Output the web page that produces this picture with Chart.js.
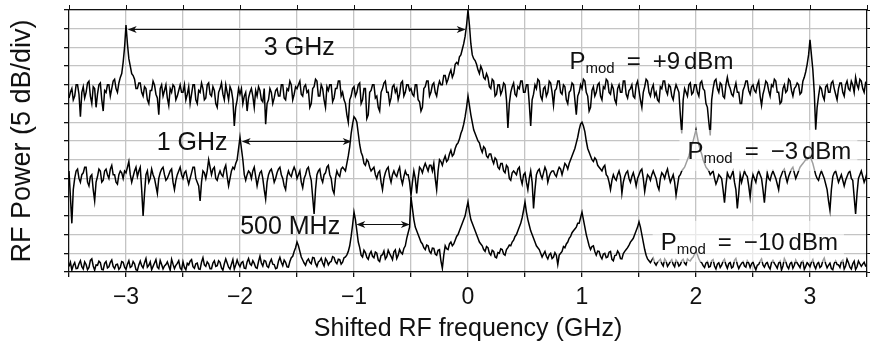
<!DOCTYPE html>
<html>
<head>
<meta charset="utf-8">
<script src="https://cdn.jsdelivr.net/npm/chart.js@4.4.0/dist/chart.umd.min.js"></script>
<style>
  html, body { margin: 0; padding: 0; background: #fff; }
  #wrap { width: 874px; height: 352px; }
</style>
</head>
<body>
<div id="wrap"><canvas id="spectrum" width="874" height="352"></canvas></div>
<script>
// frequency grid of the traces (GHz)
const FREQ_START = -3.5;
const FREQ_STEP = 0.0125;

// traces in dB (display offset), one row = 0.5 GHz
const tracePlus9 = [
  46.5, 48, 49, 46, 47, 50, 50, 47.5, 41.5, 48, 49.5, 46.5, 48, 50.5, 51, 47, 45, 49.5, 49, 44, 47.5, 50, 50.5, 46, 43, 48.5, 48, 50, 50, 47, 49, 51, 51.5, 49, 48, 50.5, 52, 53, 56, 60,
  66, 61, 57, 55, 53, 52.5, 51.5, 49, 49, 50.5, 50.5, 48, 47, 49.5, 49, 46, 45, 48.5, 48.5, 51, 50, 47.5, 46.5, 42, 49, 50, 47, 48.5, 50, 46.5, 44.5, 49, 48, 50, 49.5, 46, 47, 48.5, 50, 48,
  48, 50, 46, 47.5, 49.5, 45, 47.5, 50, 50, 46, 45, 48.5, 48, 50.5, 49, 46, 46.5, 50, 50.5, 47.5, 47, 49.5, 48.5, 45, 44, 48, 49, 50.5, 47.5, 46, 50, 48, 46, 49.5, 48.5, 46, 39, 44, 46, 49,
  47.5, 49, 45, 47, 48, 43, 46.5, 48, 49, 47, 44, 48.5, 47, 49.5, 48.5, 46, 45.5, 49, 39.5, 45, 46, 49, 48, 45, 46.5, 48.5, 49, 47, 47, 50, 50, 46.5, 46, 49, 48.5, 51, 50, 46, 47.5, 49.5,
  49, 50, 51, 47.5, 47, 49.5, 50, 48, 48.5, 44, 45, 49, 49.5, 51.5, 51, 47, 47, 50, 49, 46, 44, 49.5, 48.5, 50, 50, 45.5, 46.5, 49, 49, 51, 51, 47, 48, 46, 45, 42, 40, 46, 47, 49,
  49.5, 47, 48, 50, 50.5, 45, 46, 49, 49, 41, 42, 48, 48.5, 50, 50, 46.5, 47, 44, 43, 48, 49, 50.5, 51, 48, 48, 45, 46.5, 49.5, 50, 48, 49, 46, 47.5, 50.5, 51, 47, 48, 50, 50, 48.5,
  49, 47.5, 47, 50, 50, 46, 45.5, 43, 44, 49, 49.5, 51, 51, 47, 48, 50, 50.5, 48, 47, 49.5, 51, 50, 50, 52.5, 52.5, 50.5, 51.5, 53, 54, 52, 53, 55.5, 56, 55.5, 57.5, 58, 59.5, 61, 63, 66,
  70, 66, 61, 58, 57, 56.5, 55.5, 54, 53, 55, 54, 52, 51.5, 53, 52, 49.5, 49, 51.5, 51, 47, 47.5, 50, 50, 47.5, 48.5, 50.5, 50, 46, 38.5, 45, 48, 49.5, 50.5, 47.5, 47, 49.5, 49, 51, 51, 48,
  48, 50, 50, 45, 39, 46, 47.5, 50, 49, 51.5, 51, 47, 46, 49, 49.5, 47, 48, 51, 50.5, 48, 44.5, 48.5, 49, 51, 51, 48, 47.5, 50, 49.5, 46, 45, 48, 48.5, 50.5, 50, 46, 42, 47, 48, 50,
  49, 51.5, 51, 48, 47, 43, 44, 48.5, 49.5, 47, 48, 50, 50.5, 47, 46, 49.5, 49, 51.5, 51, 48, 47.5, 50, 49, 46, 45, 49, 50, 48, 48, 51, 51, 47.5, 46.5, 48.5, 49, 50, 47, 46.5, 50, 51,
  48.5, 46, 44, 48, 49.5, 51.5, 51, 48, 47, 49, 50, 47, 48, 46, 45.5, 49.5, 49, 51, 51, 48.5, 47.5, 50, 49.5, 47, 46, 48.5, 50, 49, 48, 42, 37, 46, 49, 48, 47, 50, 50.5, 47.5, 48, 50,
  50, 48, 47, 50.5, 51, 49, 48.5, 45, 44, 40, 36.5, 46, 49, 51, 51.5, 49, 48, 50.5, 50, 47, 46.5, 50, 52, 50, 49, 47.5, 47, 49, 50.5, 48, 48, 45, 45, 48.5, 49.5, 51, 51, 48.5, 47.5, 49.5,
  50, 48.5, 48, 50, 51, 47, 44.5, 47.5, 49, 51, 50.5, 48.5, 47, 50, 49.5, 51.5, 51, 48, 48, 45, 45.5, 49, 50, 48, 48.5, 51.5, 51, 48.5, 47, 49, 49.5, 50.5, 50, 47.5, 48, 51, 52, 53.5, 55.5, 58,
  62, 58, 54, 48, 38, 44, 47, 49.5, 49, 47, 46, 49.5, 50, 48, 48, 50.5, 51, 49, 47.5, 46, 49, 50.5, 50.5, 48, 47, 50, 51, 49, 48.5, 51, 50, 48, 52, 50, 49, 51.5, 51, 49, 48, 50.5,
  50
];

const traceMinus3 = [
  27, 20, 13, 22, 25, 27, 27.5, 25, 24, 26, 26.5, 28, 28, 24, 23, 25.5, 26, 22, 19, 24, 25.5, 27.5, 27, 24, 24.5, 27, 27.5, 26, 25, 27.5, 28.5, 26, 26, 24, 23.5, 26, 27, 26.5, 25, 27,
  26.5, 28, 29.5, 26, 24, 25.5, 27, 28, 25.5, 27, 28, 22, 15, 21, 26, 27, 24, 25, 27.5, 26, 25, 23, 21, 25, 26.5, 27.5, 28, 26, 24.5, 25, 26, 27, 27.5, 24, 22, 24.5, 26, 27, 28, 26,
  25, 26.5, 27, 25, 23.5, 25, 26.5, 28, 28, 25, 24, 23, 19, 24, 27, 26.5, 25, 27, 30, 28, 26, 27.5, 28, 25, 24.5, 26, 27, 26, 25.5, 27.5, 28.5, 25.5, 23, 25, 27, 28, 27.5, 29, 30, 33,
  36, 33, 30, 26, 24.5, 26, 27, 26.5, 25, 27, 28, 25.5, 23, 25, 26.5, 27, 25, 22, 19.5, 24, 26, 27, 27.5, 26, 24, 25, 26.5, 27.5, 28, 26, 25, 23, 22, 25.5, 27, 26, 25.5, 27, 28, 27,
  25, 26, 27, 24, 22.5, 25, 26, 27.5, 28, 26, 24.5, 20, 15.5, 22, 26, 27, 27.5, 25, 24, 26, 26.5, 28, 28.5, 26, 25, 22, 21, 25, 27, 26, 25.5, 27.5, 28, 27.5, 27, 29, 31, 33.5, 37, 39.5,
  41.5, 41, 40, 37, 34, 32, 31, 29, 28.5, 30, 29.5, 28, 27, 27.5, 28, 26, 25, 26.5, 27, 24, 22, 25, 26.5, 27.5, 28, 25.5, 24, 26, 27, 26, 25.5, 27, 28, 25, 23.5, 25.5, 27, 26, 26, 24,
  20.5, 24, 27, 25, 21, 25, 28, 27.5, 26.5, 28, 29, 28, 27, 28.5, 28.5, 27, 29, 25, 22, 27, 30, 29.5, 28.5, 30, 31, 29.5, 30, 31.5, 32.5, 31, 31.5, 33, 34, 34.5, 35.5, 37, 38, 39.5, 41.5, 44,
  47, 44.5, 42, 40, 38, 37, 36, 35, 34.5, 33, 32, 33.5, 33, 31, 30.5, 31.5, 31.5, 30, 29, 30.5, 30, 28, 27.5, 29, 29, 27, 26.5, 28.5, 28, 25, 24.5, 26.5, 27, 26.5, 26, 27.5, 28, 25, 23.5, 26,
  26.5, 24, 22, 25, 27, 24, 17, 22, 26, 27, 27.5, 26, 25, 26.5, 28, 27, 24, 25.5, 26.5, 27, 27, 26, 25.5, 27, 28, 27.5, 26, 27.5, 29, 28.5, 27.5, 29, 30, 31, 32, 33, 34.5, 36, 38, 39.5,
  40, 39, 37.5, 35, 33, 32, 31, 30, 29.5, 30.5, 30, 28.5, 28, 27.5, 27, 28, 28.5, 26, 25.5, 24, 22, 24.5, 26, 25, 24.5, 26, 27, 25.5, 21, 24, 25.5, 26.5, 27, 25, 24, 25.5, 26.5, 25, 23, 25,
  26, 27, 27.5, 25, 21.5, 24, 26, 25.5, 24.5, 26, 27, 26, 25, 23, 22, 25, 26.5, 26, 25, 26.5, 27.5, 25.5, 24, 25, 26, 24, 20.5, 23, 25.5, 26, 27, 27.5, 28, 29, 30, 31, 32.5, 34, 35, 36.5,
  38, 36, 34, 32.5, 31.5, 30, 29, 28, 27.5, 27, 26, 26.5, 27, 25, 23.5, 24.5, 26, 25.5, 25, 22, 18.5, 23, 26.5, 25.5, 25, 26, 27, 24, 22, 17, 21, 26, 24, 25.5, 27, 26, 25.5, 23, 20, 24,
  26, 25, 24, 26, 27, 26, 25, 22, 18.5, 23, 26.5, 25, 24.5, 26, 27, 26, 25, 23.5, 22, 25, 26, 27, 27.5, 25.5, 24, 25.5, 26.5, 27.5, 28, 26.5, 25, 26, 27, 28, 28.5, 29, 29.5, 30, 30, 30.5,
  31, 30, 29, 27.5, 26, 25, 24.5, 26, 27, 26, 25, 23.5, 22, 19, 16.5, 22, 25.5, 26.5, 27, 25.5, 24, 25, 26, 24.5, 23, 24.5, 25.5, 26.5, 27, 25, 24.5, 20, 15.5, 21, 25, 26, 27, 25.5, 24, 25,
  26.5
];

const traceMinus10 = [
  1.5, 2.6, 0.5, 1.8, 2.5, 0.9, 1, 2.2, 3, 1.4, 0.8, 2.7, 2, 0.6, 1.2, 3.1, 3.5, 1.6, 0.5, 1.9, 1.8, 2.9, 2.5, 0.7, 0.6, 2.3, 2.8, 1.1, 1.4, 2.6, 3.2, 1.5, 0.9, 2, 2.1, 0.7, 1.2, 2.8, 2.6, 1.3,
  0.7, 2.1, 3, 1.2, 1.5, 2.8, 2.2, 0.6, 0.4, 1.9, 2.9, 1.7, 1.1, 2.5, 3.6, 1.3, 1.8, 2.7, 0.6, 1.5, 2.4, 3.3, 1.3, 0.9, 3.1, 2, 0.8, 1.6, 2, 2.7, 1.6, 0.5, 3.4, 2.1, 0.9, 1.8, 2.3, 3, 1.1, 0.6,
  2.7, 1.2, 0.6, 2.3, 1.9, 2.9, 3.3, 1.4, 1, 2.2, 2.4, 0.8, 0.7, 2.6, 3.8, 1.9, 1.5, 2.7, 2.2, 0.9, 0.9, 2.4, 3, 1.5, 1.7, 3, 2.6, 1.1, 0.5, 2.2, 3.5, 2.4, 1.3, 0.8, 2.1, 3.3, 0.8, 1.9, 3.2, 2.1,
  1.4, 2.5, 2.8, 1, 0.9, 2.7, 3.6, 2.2, 1.8, 3, 2.3, 1.2, 1, 2.8, 4.2, 2.4, 1.6, 3.1, 2.9, 1.5, 1.2, 2.6, 3.4, 2.1, 2, 0.9, 1.1, 2.9, 3.9, 2.6, 1.7, 3.2, 2.6, 1.4, 1.3, 2.8, 3.8, 4.2, 5.5, 6.5,
  8, 7, 5.5, 4, 3.2, 2.4, 1.8, 3, 3.5, 2.6, 2.2, 3.9, 3.8, 2.3, 1.5, 2.7, 3, 3.7, 2.4, 1.6, 3.6, 3, 1.9, 2.6, 2.8, 4.1, 3.9, 2.7, 2.2, 3.4, 3.3, 2.1, 2.6, 3.8, 4, 4.6, 5.5, 7, 9.5, 12.5,
  16, 14, 11, 8, 6.5, 4.5, 4, 5.8, 5.2, 3.9, 3.4, 4.8, 5.5, 4.2, 3.8, 5.3, 5, 3.2, 2.8, 4.4, 4.6, 5.6, 3.5, 4.1, 5.8, 4.9, 4.2, 3.3, 5.4, 5.9, 3.6, 4.5, 6, 5.2, 4.8, 6.3, 7, 9, 10.5, 12,
  20, 17, 14, 12, 11, 10, 9, 8, 7.5, 6.5, 6, 7.2, 7, 5.5, 5, 6.4, 6.3, 4.8, 4.5, 5.8, 6, 3, 1, 4.5, 7, 6.2, 6, 7.5, 8, 7, 7.5, 8.5, 9.5, 10, 11, 12, 13, 14, 15, 17,
  18.7, 16, 14, 13, 12, 11, 10, 9, 8, 7.5, 7, 6, 5.5, 6.8, 6.5, 5, 4.5, 5.8, 5.5, 4, 3.8, 5.2, 5, 6.2, 6, 4.8, 4.5, 6, 6.5, 7.2, 7, 8, 8.5, 9.5, 10, 11, 12, 13, 14.5, 16.5,
  18.7, 16, 14, 12.5, 11, 10, 9, 8, 7, 6.5, 6, 5, 4, 4.8, 5.5, 4.2, 3.5, 4.6, 5, 3.6, 4, 5.2, 4.5, 2, 4.5, 5, 5.5, 6.8, 6.5, 7.5, 8, 9, 9.5, 10.5, 11, 11.5, 12, 13, 13, 14.5,
  16, 14, 12, 10, 8.5, 7, 6, 6.8, 7, 5.5, 4.5, 5.6, 5.5, 4.2, 3.5, 4.8, 5, 3.8, 4, 5.3, 5.5, 3.4, 3, 4.4, 4.5, 5.6, 5, 3.6, 3.5, 4.9, 5.5, 6, 6.5, 7.2, 8, 8.5, 9, 10, 11, 12,
  13.4, 12, 10, 8, 6, 4.5, 3.5, 3, 2.5, 3.2, 3.8, 2.4, 1.8, 2.6, 3, 3.4, 2.2, 1.6, 3.5, 2.9, 1.5, 2.1, 2.8, 3.3, 2, 1.4, 3.2, 2.7, 1.6, 2, 3, 3.4, 2.4, 1.9, 3.5, 3.1, 3, 3.6, 4, 4.8,
  5.5, 4.6, 3.5, 2.8, 2.5, 1.7, 1.2, 2.4, 2.8, 1.3, 1.5, 3, 3.3, 1.6, 0.8, 2.1, 2.5, 1.2, 1.8, 2.9, 3.4, 1.9, 1, 2.2, 2.6, 1.1, 1.4, 3.1, 3.6, 2, 0.9, 1.7, 2.3, 2.8, 1.6, 1.3, 3, 2.4, 1.2, 2.2,
  2.7, 1.5, 0.6, 1.8, 2, 2.9, 3.5, 1.9, 1.3, 2.2, 2.6, 1.4, 0.8, 2.5, 3.1, 2.3, 1.7, 1, 2.4, 2.9, 0.5, 1.6, 3.6, 2.8, 1.5, 0.9, 2.2, 2.7, 1, 1.8, 3.2, 2.4, 1.8, 1.2, 2.7, 3, 0.7, 1.5, 2.5, 2,
  1.4, 2.6, 3.3, 1.7, 0.9, 2.1, 2.6, 1.2, 1.6, 3, 3.7, 2.2, 1.1, 1.8, 2.4, 0.9, 0.6, 2.3, 3, 2, 1.9, 1.2, 2.8, 3.2, 0.8, 1.6, 3.4, 2.5, 1.3, 0.8, 2.2, 2.9, 0.7, 1.4, 2.9, 2.2, 1.5, 2.1, 2.6, 1.6,
  1.8
];

const xLabels = [-3, -2, -1, 0, 1, 2, 3];

// annotations, in data units
const arrows = [
  { from: -2.985, to: -0.02, y: 64.9 },
  { from: -1.985, to: -1.02, y: 34.9 },
  { from: -0.98, to: -0.51, y: 12.8 }
];
const spanLabels = [
  { text: "3 GHz", x: -1.48, y: 59.9 },
  { text: "1 GHz", x: -2.42, y: 34.5 },
  { text: "500 MHz", x: -1.56, y: 11.9 }
];
const powerLabels = [
  { value: "+9", x: 0.89, y: 54.2, box: false },
  { value: "\u22123", x: 1.925, y: 30.2, box: true },
  { value: "\u221210", x: 1.69, y: 5.9, box: true }
];

const FONT = '"Liberation Sans", Arial, sans-serif';
const INK = '#111';

const toPoints = arr => arr.map((v, i) => ({ x: Math.round((FREQ_START + i * FREQ_STEP) * 10000) / 10000, y: v }));

function arrowHead(ctx, tipX, tipY, dir) {
  ctx.beginPath();
  ctx.moveTo(tipX, tipY);
  ctx.lineTo(tipX - dir * 9, tipY - 3.5);
  ctx.lineTo(tipX - dir * 6.5, tipY);
  ctx.lineTo(tipX - dir * 9, tipY + 3.5);
  ctx.closePath();
  ctx.fill();
}

function powerLabel(ctx, lbl, px, py) {
  const big = '24px ' + FONT, small = '15px ' + FONT;
  const parts = [
    { t: 'P', f: big, dy: 0, gap: 0 },
    { t: 'mod', f: small, dy: 4, gap: 12 },
    { t: '=', f: big, dy: 0, gap: 12 },
    { t: lbl.value, f: big, dy: 0, gap: 4 },
    { t: 'dBm', f: big, dy: 0, gap: 0 }
  ];
  let w = 0;
  parts.forEach(p => { ctx.font = p.f; p.w = ctx.measureText(p.t).width; w += p.w + p.gap; });
  if (lbl.box) {
    ctx.fillStyle = 'rgba(255,255,255,0.62)';
    ctx.fillRect(px - 8, py - 29, w + 14, 41);
  }
  ctx.fillStyle = INK;
  ctx.textBaseline = 'alphabetic';
  ctx.textAlign = 'left';
  let cx = px;
  parts.forEach(p => {
    ctx.font = p.f;
    ctx.fillText(p.t, cx, py + p.dy);
    cx += p.w + p.gap;
  });
}

const annotate = {
  id: 'annotate',
  afterDatasetsDraw(chart) {
    const { ctx, scales } = chart;
    const sx = scales.x, sy = scales.y;
    ctx.save();
    ctx.strokeStyle = INK;
    ctx.fillStyle = INK;
    ctx.lineWidth = 1.2;
    arrows.forEach(a => {
      const x1 = sx.getPixelForValue(a.from), x2 = sx.getPixelForValue(a.to);
      const py = Math.round(sy.getPixelForValue(a.y)) + 0.5;
      ctx.beginPath();
      ctx.moveTo(x1 + 6, py);
      ctx.lineTo(x2 - 6, py);
      ctx.stroke();
      arrowHead(ctx, x1, py, -1);
      arrowHead(ctx, x2, py, 1);
    });
    ctx.font = '25px ' + FONT;
    ctx.textAlign = 'center';
    ctx.textBaseline = 'middle';
    spanLabels.forEach(l => {
      ctx.fillText(l.text, sx.getPixelForValue(l.x), sy.getPixelForValue(l.y));
    });
    powerLabels.forEach(l => powerLabel(ctx, l, sx.getPixelForValue(l.x), sy.getPixelForValue(l.y)));
    ctx.restore();
  }
};

const traceStyle = { borderColor: '#000', borderWidth: 1.5, pointRadius: 0, tension: 0, fill: false };

new Chart(document.getElementById('spectrum'), {
  type: 'line',
  data: {
    datasets: [
      { ...traceStyle, label: '+9 dBm', data: toPoints(tracePlus9) },
      { ...traceStyle, label: '-3 dBm', data: toPoints(traceMinus3) },
      { ...traceStyle, label: '-10 dBm', data: toPoints(traceMinus10) }
    ]
  },
  options: {
    responsive: false,
    animation: false,
    devicePixelRatio: 1,
    layout: { padding: 0 },
    plugins: { legend: { display: false }, tooltip: { enabled: false } },
    scales: {
      x: {
        type: 'linear', position: 'bottom', min: -3.5, max: 3.5,
        afterFit: s => { s.height = 80; },
        ticks: {
          stepSize: 0.5, autoSkip: false, maxRotation: 0, padding: 7, color: INK,
          font: { family: FONT, size: 23 },
          callback: v => xLabels.includes(v) ? (v < 0 ? '\u2212' + Math.abs(v) : String(v)) : ''
        },
        grid: { color: '#c4c4c4', lineWidth: 1.3, tickColor: INK, tickLength: 5 },
        border: { color: INK, width: 1.2 },
        title: { display: true, text: 'Shifted RF frequency (GHz)', color: INK, font: { family: FONT, size: 25 }, padding: { top: 0, bottom: 8 } }
      },
      xTop: {
        type: 'linear', position: 'top', min: -3.5, max: 3.5,
        afterFit: s => { s.height = 10; },
        ticks: { stepSize: 0.5, display: false },
        grid: { drawOnChartArea: false, tickColor: INK, tickLength: 5 },
        border: { color: INK, width: 1.2 }
      },
      y: {
        type: 'linear', position: 'left', min: 0, max: 70,
        afterFit: s => { s.width = 69; },
        ticks: { stepSize: 5, display: false },
        grid: { color: '#c4c4c4', lineWidth: 1.3, tickColor: INK, tickLength: 5 },
        border: { color: INK, width: 1.2 },
        title: { display: true, text: 'RF Power (5 dB/div)', color: INK, font: { family: FONT, size: 27 }, padding: { top: 6, bottom: 0 } }
      },
      yRight: {
        type: 'linear', position: 'right', min: 0, max: 70,
        afterFit: s => { s.width = 3; },
        ticks: { stepSize: 5, display: false },
        grid: { drawOnChartArea: false, tickColor: INK, tickLength: 3 },
        border: { color: INK, width: 1.2 }
      }
    }
  },
  plugins: [annotate]
});
</script>
</body>
</html>
